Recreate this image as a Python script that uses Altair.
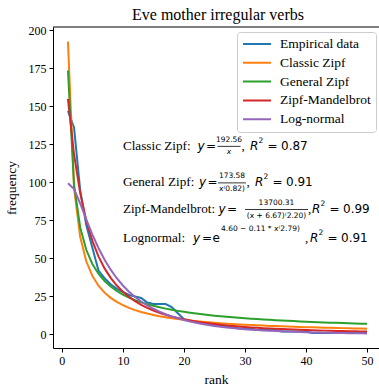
import altair as alt
import numpy as np
import pandas as pd

# ---- data -------------------------------------------------------------
ranks = list(range(1, 51))
empirical = [147, 136, 95, 72, 57, 42, 37, 33, 30, 28,
             26, 25, 24, 21, 20, 20, 20, 18, 14, 10,
             9, 8, 8, 7, 6, 6, 5, 5, 4, 4,
             4, 3, 3, 3, 3, 2, 2, 2, 2, 2,
             1, 1, 1, 1, 1, 1, 1, 1, 1, 1]

series_names = ["Empirical data", "Classic Zipf", "General Zipf",
                "Zipf-Mandelbrot", "Log-normal"]
series_colors = ["#1f77b4", "#ff7f0e", "#2ca02c", "#d62728", "#9467bd"]

# fitted parameters and goodness of fit
classic_c, classic_r2 = 192.56, 0.87
general_c, general_s, general_r2 = 173.58, 0.82, 0.91
zm_c, zm_q, zm_s, zm_r2 = 13700.31, 6.67, 2.20, 0.99
ln_mu, ln_a, ln_p, ln_r2 = 4.60, 0.11, 2.79, 0.91

r = np.array(ranks, dtype=float)
curves = {
    "Empirical data": np.array(empirical, dtype=float),
    "Classic Zipf": classic_c / r,
    "General Zipf": general_c / r ** general_s,
    "Zipf-Mandelbrot": zm_c / (r + zm_q) ** zm_s,
    "Log-normal": np.exp(ln_mu - ln_a * np.log(r) ** ln_p),
}
df = pd.concat(
    [pd.DataFrame({"rank": ranks, "frequency": curves[n], "series": n,
                   "series_order": i})
     for i, n in enumerate(series_names)],
    ignore_index=True,
)

# ---- geometry ---------------------------------------------------------
W, H = 326, 321
PAD_L, PAD_T = 53, 27
x_dom = [-1.45, 51.96]
y_dom = [-8.88, 202.15]


def sx(v):
    return (v - x_dom[0]) / (x_dom[1] - x_dom[0]) * W


def sy(v):
    return (y_dom[1] - v) / (y_dom[1] - y_dom[0]) * H


SERIF = "Liberation Serif"
MATH = "DejaVu Sans"
styles = {
    "serif": dict(font=SERIF, fontSize=13.2, fontStyle="normal"),
    "math": dict(font=MATH, fontSize=12, fontStyle="normal"),
    "math_it": dict(font=MATH, fontSize=12, fontStyle="italic"),
    "small": dict(font=MATH, fontSize=7.5, fontStyle="normal"),
    "small_it": dict(font=MATH, fontSize=7.5, fontStyle="italic"),
}

# ---- lines ------------------------------------------------------------
lines = alt.Chart(df).mark_line(strokeWidth=2, clip=True).encode(
    x=alt.X("rank:Q", title="rank",
            scale=alt.Scale(domain=x_dom, nice=False, zero=False),
            axis=alt.Axis(values=[0, 10, 20, 30, 40, 50], format="d")),
    y=alt.Y("frequency:Q", title="frequency",
            scale=alt.Scale(domain=y_dom, nice=False, zero=False),
            axis=alt.Axis(values=list(range(0, 201, 25)), format="d")),
    color=alt.Color(
        "series:N",
        scale=alt.Scale(domain=series_names, range=series_colors),
        sort=series_names,
        legend=alt.Legend(
            title=None, orient="none", legendX=184, legendY=5,
            symbolType="stroke", symbolSize=784, symbolStrokeWidth=2,
            labelFont=SERIF, labelFontSize=13.5, labelColor="black",
            labelOffset=8, padding=5, rowPadding=4.8, clipHeight=14,
            strokeColor="#cccccc", fillColor="white", cornerRadius=3,
        ),
    ),
    order=alt.Order("series_order:Q"),
)

# ---- formula annotations ---------------------------------------------
x_anchor = 10
x0 = PAD_L + sx(x_anchor)


def f2(v):
    return f"{v:.2f}"


def r2_pieces(a, value):
    # "R^2 = value" set in math style starting at page x position a
    return [
        ("R", a, 0, "math_it", "left"),
        ("2", a + 8.6, -5, "small", "left"),
        ("=", a + 17.5, 0, "math", "left"),
        (f2(value), a + 31, 0, "math", "left"),
    ]


annotations = [
    (124, [
        ("Classic Zipf:", 122.9, 0, "serif", "left"),
        ("y", 197.5, 0, "math_it", "left"),
        ("=", 206, 0, "math", "left"),
        (f2(classic_c), 229, -6, "small", "center"),
        ("x", 229, 6.5, "small_it", "center"),
        (",", 241.5, 0, "serif", "left"),
    ] + r2_pieces(250, classic_r2), (217.5, 240.5)),
    (100, [
        ("General Zipf:", 122.9, 0, "serif", "left"),
        ("y", 199, 0, "math_it", "left"),
        ("=", 207.5, 0, "math", "left"),
        (f2(general_c), 232, -6, "small", "center"),
        (f"x⁽{f2(general_s)})", 232, 6.5, "small", "center"),
        (",", 246.5, 0, "serif", "left"),
    ] + r2_pieces(255, general_r2), (218, 246)),
    (82.5, [
        ("Zipf-Mandelbrot:", 122.9, 0, "serif", "left"),
        ("y", 218.5, 0, "math_it", "left"),
        ("=", 227, 0, "math", "left"),
        (f2(zm_c), 276.5, -6, "small", "center"),
        (f"(x + {f2(zm_q)})⁽{f2(zm_s)})", 276.5, 6.5, "small", "center"),
        (",", 308, 0, "serif", "left"),
    ] + r2_pieces(312, zm_r2), (245, 308)),
    (63.4, [
        ("Lognormal:", 122.9, 0, "serif", "left"),
        ("y", 193, 0, "math_it", "left"),
        ("=", 202, 0, "math", "left"),
        ("e", 212.5, 0, "math", "left"),
        (f"{f2(ln_mu)} − {f2(ln_a)} * x⁽{f2(ln_p)})", 221, -9.5, "small", "left"),
        (",", 305, 0, "serif", "left"),
    ] + r2_pieces(310, ln_r2), None),
]

text_layers = []
for y_val, pieces, bar in annotations:
    for text, px, dy, style, align in pieces:
        text_layers.append(
            alt.Chart().mark_text(
                text=text, align=align, baseline="middle",
                dx=px - x0, dy=dy, color="black", **styles[style],
            ).encode(x=alt.datum(x_anchor), y=alt.datum(y_val))
        )
    if bar is not None:
        yb = sy(y_val) + 0.5
        text_layers.append(
            alt.Chart().mark_rule(color="black", strokeWidth=0.8).encode(
                x=alt.value(bar[0] - PAD_L), x2=alt.value(bar[1] - PAD_L),
                y=alt.value(yb),
            )
        )

# chart title, centred over the axes box
title_text = "Eve mother irregular verbs"
title = alt.Chart().mark_text(
    text=title_text, font=SERIF, fontSize=16, color="black",
    align="center", baseline="alphabetic",
).encode(x=alt.value(218 - PAD_L), y=alt.value(20 - PAD_T))

# top spine
top_spine = alt.Chart().mark_rule(color="black", strokeWidth=1).encode(
    x=alt.value(0), x2=alt.value(W), y=alt.value(0)
)

chart = alt.layer(lines, top_spine, title, *text_layers).properties(
    width=W, height=H,
    autosize=alt.AutoSizeParams(type="none"),
    padding={"left": PAD_L, "top": PAD_T, "right": 0, "bottom": 44},
).configure_view(stroke=None).configure_axis(
    grid=False, domainColor="black", domainWidth=1, tickColor="black",
    tickSize=4, tickWidth=1, labelFont=SERIF, labelFontSize=12,
    labelColor="black", labelPadding=3, titleFont=SERIF, titleFontSize=13.5,
    titleFontWeight="normal", titleColor="black",
).configure_axisX(titlePadding=6).configure_axisY(titlePadding=10
).configure_legend(labelFont=SERIF, labelFontSize=13.5)

chart.save("out.html", embed_options={"renderer": "svg", "actions": False})
